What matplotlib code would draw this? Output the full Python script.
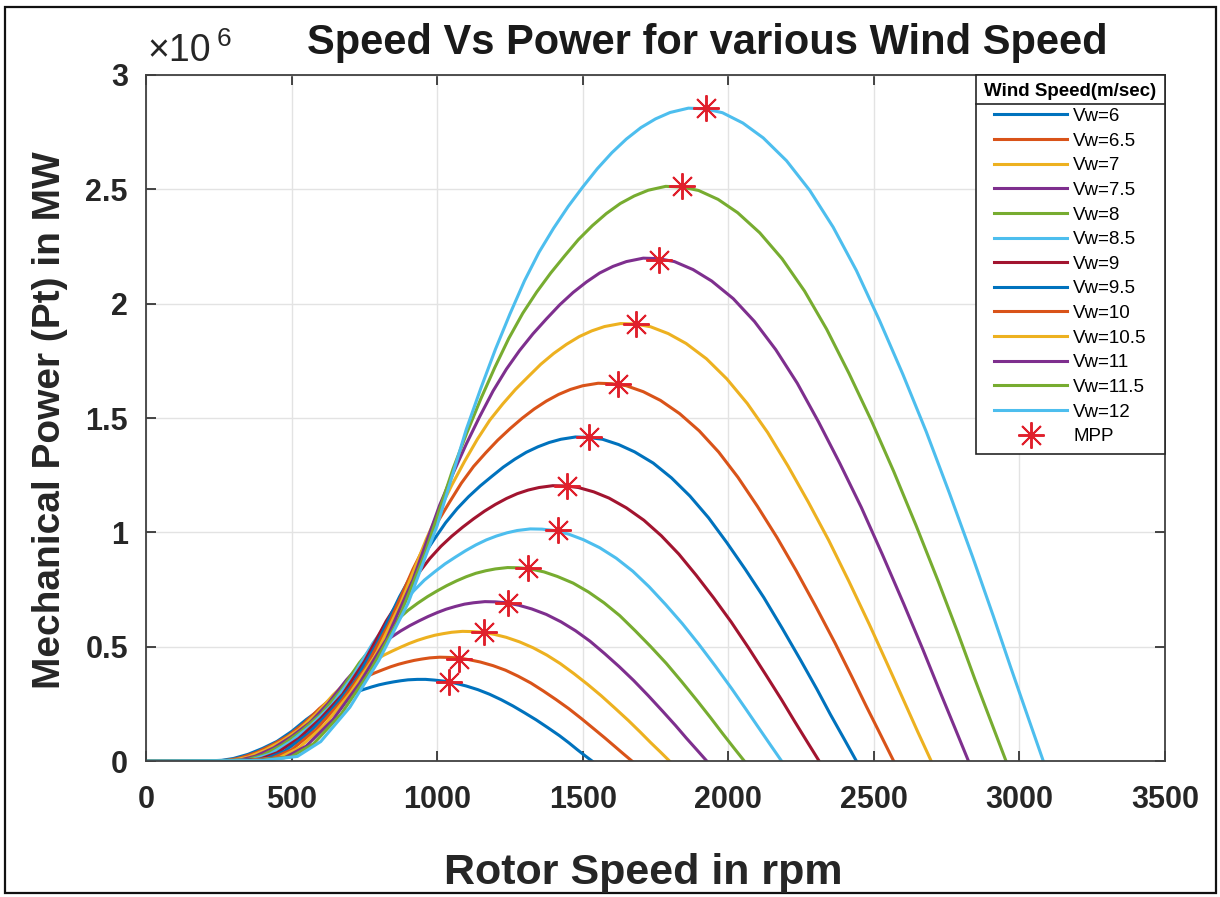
import matplotlib
matplotlib.use('Agg')
import matplotlib.pyplot as plt
from matplotlib.lines import Line2D
from matplotlib.patches import Rectangle

plt.rcParams['font.family'] = ['Liberation Sans', 'DejaVu Sans']

# rotor speed (rpm) and mechanical power (x10^6 W) for each wind speed
rpm_vw6 = [0, 200, 260, 300, 350, 400, 450, 500, 550, 575, 600, 625, 650, 675, 700, 725, 750, 775, 800, 825, 850, 875, 900, 932, 960, 990, 1025, 1060, 1100, 1140, 1180, 1220, 1260, 1300, 1340, 1380, 1420, 1453, 1480, 1507, 1532]
p_vw6 = [0, 0.000, 0.003, 0.011, 0.029, 0.055, 0.086, 0.129, 0.181, 0.204, 0.225, 0.244, 0.263, 0.278, 0.291, 0.303, 0.314, 0.324, 0.333, 0.340, 0.346, 0.351, 0.355, 0.357, 0.357, 0.354, 0.349, 0.341, 0.328, 0.312, 0.292, 0.268, 0.241, 0.211, 0.180, 0.146, 0.111, 0.079, 0.051, 0.024, 0]

rpm_vw65 = [0, 217, 282, 325, 379, 433, 488, 542, 596, 623, 650, 677, 704, 731, 758, 785, 813, 840, 867, 894, 921, 948, 975, 1009, 1040, 1073, 1110, 1148, 1192, 1235, 1278, 1322, 1365, 1408, 1452, 1495, 1538, 1576, 1609, 1641, 1669]
p_vw65 = [0, 0.000, 0.003, 0.014, 0.037, 0.070, 0.110, 0.164, 0.230, 0.259, 0.286, 0.311, 0.334, 0.354, 0.370, 0.385, 0.399, 0.412, 0.423, 0.432, 0.440, 0.446, 0.451, 0.454, 0.453, 0.451, 0.443, 0.433, 0.417, 0.397, 0.371, 0.341, 0.306, 0.269, 0.229, 0.186, 0.141, 0.101, 0.065, 0.030, 0]

rpm_vw7 = [0, 233, 303, 350, 408, 467, 525, 583, 642, 671, 700, 729, 758, 788, 817, 846, 875, 904, 933, 963, 992, 1021, 1050, 1087, 1120, 1155, 1196, 1237, 1283, 1330, 1377, 1423, 1470, 1517, 1563, 1610, 1657, 1698, 1733, 1768, 1798]
p_vw7 = [0, 0.000, 0.004, 0.017, 0.047, 0.087, 0.137, 0.204, 0.288, 0.324, 0.357, 0.388, 0.417, 0.442, 0.463, 0.481, 0.498, 0.514, 0.528, 0.540, 0.550, 0.557, 0.563, 0.567, 0.566, 0.563, 0.554, 0.541, 0.521, 0.495, 0.463, 0.426, 0.382, 0.335, 0.286, 0.232, 0.177, 0.126, 0.081, 0.038, 0]

rpm_vw75 = [0, 250, 325, 375, 438, 500, 563, 625, 688, 719, 750, 781, 813, 844, 875, 906, 938, 969, 1000, 1031, 1063, 1094, 1125, 1164, 1200, 1238, 1281, 1325, 1375, 1425, 1475, 1525, 1575, 1625, 1675, 1725, 1775, 1819, 1856, 1894, 1926]
p_vw75 = [0, 0.000, 0.005, 0.021, 0.057, 0.107, 0.168, 0.251, 0.354, 0.398, 0.439, 0.477, 0.513, 0.543, 0.569, 0.592, 0.613, 0.632, 0.649, 0.664, 0.676, 0.686, 0.692, 0.697, 0.696, 0.692, 0.681, 0.665, 0.641, 0.609, 0.570, 0.524, 0.470, 0.413, 0.352, 0.286, 0.217, 0.155, 0.100, 0.046, 0]

rpm_vw8 = [0, 267, 347, 400, 467, 533, 600, 667, 733, 767, 800, 833, 867, 900, 933, 967, 1000, 1033, 1067, 1100, 1133, 1167, 1200, 1242, 1280, 1320, 1367, 1413, 1467, 1520, 1573, 1627, 1680, 1733, 1787, 1840, 1893, 1940, 1980, 2020, 2055]
p_vw8 = [0, 0.001, 0.006, 0.025, 0.070, 0.130, 0.204, 0.305, 0.430, 0.483, 0.533, 0.579, 0.622, 0.659, 0.690, 0.719, 0.744, 0.767, 0.788, 0.806, 0.821, 0.832, 0.840, 0.846, 0.845, 0.840, 0.827, 0.807, 0.778, 0.739, 0.692, 0.636, 0.570, 0.501, 0.427, 0.347, 0.264, 0.188, 0.121, 0.056, 0]

rpm_vw85 = [0, 283, 368, 425, 496, 567, 638, 708, 779, 815, 850, 885, 921, 956, 992, 1027, 1063, 1098, 1133, 1169, 1204, 1240, 1275, 1320, 1360, 1402, 1452, 1502, 1558, 1615, 1672, 1728, 1785, 1842, 1898, 1955, 2012, 2061, 2104, 2146, 2183]
p_vw85 = [0, 0.001, 0.007, 0.030, 0.084, 0.156, 0.245, 0.366, 0.515, 0.579, 0.640, 0.695, 0.746, 0.791, 0.828, 0.862, 0.892, 0.920, 0.945, 0.967, 0.984, 0.998, 1.008, 1.015, 1.014, 1.008, 0.992, 0.968, 0.933, 0.887, 0.830, 0.762, 0.684, 0.601, 0.512, 0.416, 0.316, 0.226, 0.146, 0.068, 0]

rpm_vw9 = [0, 300, 390, 450, 525, 600, 675, 750, 825, 863, 900, 938, 975, 1013, 1050, 1088, 1125, 1163, 1200, 1238, 1275, 1313, 1350, 1397, 1440, 1485, 1538, 1590, 1650, 1710, 1770, 1830, 1890, 1950, 2010, 2070, 2130, 2183, 2228, 2273, 2312]
p_vw9 = [0, 0.001, 0.008, 0.036, 0.099, 0.186, 0.291, 0.435, 0.612, 0.688, 0.759, 0.825, 0.886, 0.939, 0.983, 1.023, 1.059, 1.093, 1.122, 1.148, 1.169, 1.185, 1.196, 1.204, 1.203, 1.196, 1.177, 1.150, 1.107, 1.053, 0.985, 0.905, 0.812, 0.713, 0.608, 0.494, 0.375, 0.268, 0.173, 0.080, 0]

rpm_vw95 = [0, 317, 412, 475, 554, 633, 713, 792, 871, 910, 950, 990, 1029, 1069, 1108, 1148, 1188, 1227, 1267, 1306, 1346, 1385, 1425, 1475, 1520, 1568, 1623, 1678, 1742, 1805, 1868, 1932, 1995, 2058, 2122, 2185, 2248, 2304, 2351, 2399, 2440]
p_vw95 = [0, 0.001, 0.010, 0.042, 0.117, 0.218, 0.342, 0.511, 0.719, 0.809, 0.893, 0.970, 1.042, 1.104, 1.156, 1.203, 1.245, 1.285, 1.320, 1.350, 1.374, 1.393, 1.407, 1.417, 1.415, 1.407, 1.384, 1.352, 1.303, 1.238, 1.159, 1.064, 0.955, 0.839, 0.715, 0.581, 0.442, 0.315, 0.203, 0.094, 0]

rpm_vw10 = [0, 333, 433, 500, 583, 667, 750, 833, 917, 958, 1000, 1042, 1083, 1125, 1167, 1208, 1250, 1292, 1333, 1375, 1417, 1458, 1500, 1553, 1600, 1650, 1708, 1767, 1833, 1900, 1967, 2033, 2100, 2167, 2233, 2300, 2367, 2425, 2475, 2525, 2568]
p_vw10 = [0, 0.001, 0.012, 0.049, 0.136, 0.255, 0.399, 0.596, 0.839, 0.943, 1.042, 1.131, 1.215, 1.288, 1.348, 1.403, 1.453, 1.499, 1.539, 1.574, 1.603, 1.625, 1.641, 1.652, 1.650, 1.641, 1.615, 1.577, 1.519, 1.444, 1.351, 1.241, 1.114, 0.978, 0.833, 0.677, 0.515, 0.367, 0.237, 0.110, 0]

rpm_vw105 = [0, 350, 455, 525, 613, 700, 788, 875, 963, 1006, 1050, 1094, 1138, 1181, 1225, 1269, 1313, 1356, 1400, 1444, 1488, 1531, 1575, 1630, 1680, 1733, 1794, 1855, 1925, 1995, 2065, 2135, 2205, 2275, 2345, 2415, 2485, 2546, 2599, 2651, 2697]
p_vw105 = [0, 0.001, 0.013, 0.057, 0.157, 0.295, 0.462, 0.690, 0.971, 1.092, 1.206, 1.310, 1.407, 1.491, 1.561, 1.625, 1.681, 1.735, 1.782, 1.822, 1.856, 1.881, 1.900, 1.913, 1.911, 1.899, 1.869, 1.826, 1.759, 1.671, 1.564, 1.437, 1.290, 1.132, 0.965, 0.784, 0.596, 0.425, 0.275, 0.127, 0]

rpm_vw11 = [0, 367, 477, 550, 642, 733, 825, 917, 1008, 1054, 1100, 1146, 1192, 1238, 1283, 1329, 1375, 1421, 1467, 1513, 1558, 1604, 1650, 1708, 1760, 1815, 1879, 1943, 2017, 2090, 2163, 2237, 2310, 2383, 2457, 2530, 2603, 2668, 2723, 2778, 2825]
p_vw11 = [0, 0.002, 0.015, 0.065, 0.181, 0.339, 0.531, 0.793, 1.117, 1.256, 1.386, 1.506, 1.618, 1.714, 1.795, 1.868, 1.933, 1.995, 2.049, 2.095, 2.134, 2.163, 2.184, 2.199, 2.197, 2.184, 2.149, 2.099, 2.022, 1.922, 1.799, 1.652, 1.483, 1.302, 1.109, 0.901, 0.686, 0.489, 0.316, 0.146, 0]

rpm_vw115 = [0, 383, 498, 575, 671, 767, 863, 958, 1054, 1102, 1150, 1198, 1246, 1294, 1342, 1390, 1438, 1485, 1533, 1581, 1629, 1677, 1725, 1785, 1840, 1898, 1965, 2032, 2108, 2185, 2262, 2338, 2415, 2492, 2568, 2645, 2722, 2789, 2846, 2904, 2954]
p_vw115 = [0, 0.002, 0.018, 0.075, 0.207, 0.387, 0.607, 0.907, 1.276, 1.435, 1.584, 1.721, 1.848, 1.958, 2.051, 2.134, 2.209, 2.280, 2.341, 2.394, 2.438, 2.471, 2.496, 2.513, 2.510, 2.495, 2.456, 2.398, 2.310, 2.196, 2.055, 1.888, 1.694, 1.487, 1.267, 1.030, 0.783, 0.559, 0.361, 0.167, 0]

rpm_vw12 = [0, 400, 520, 600, 700, 800, 900, 1000, 1100, 1150, 1200, 1250, 1300, 1350, 1400, 1450, 1500, 1550, 1600, 1650, 1700, 1750, 1800, 1863, 1920, 1980, 2050, 2120, 2200, 2280, 2360, 2440, 2520, 2600, 2680, 2760, 2840, 2910, 2970, 3030, 3082]
p_vw12 = [0, 0.002, 0.020, 0.085, 0.235, 0.440, 0.690, 1.030, 1.450, 1.630, 1.800, 1.955, 2.100, 2.225, 2.330, 2.425, 2.510, 2.590, 2.660, 2.720, 2.770, 2.808, 2.836, 2.855, 2.852, 2.835, 2.790, 2.725, 2.625, 2.495, 2.335, 2.145, 1.925, 1.690, 1.440, 1.170, 0.890, 0.635, 0.410, 0.190, 0]

# maximum power points
mpp_rpm = [1041, 1076, 1162, 1244, 1313, 1414, 1447, 1522, 1622, 1684, 1763, 1842, 1924]
mpp_power = [0.346, 0.447, 0.566, 0.689, 0.846, 1.009, 1.202, 1.417, 1.649, 1.912, 2.193, 2.513, 2.855]

labels = ['Vw=6', 'Vw=6.5', 'Vw=7', 'Vw=7.5', 'Vw=8', 'Vw=8.5', 'Vw=9',
          'Vw=9.5', 'Vw=10', 'Vw=10.5', 'Vw=11', 'Vw=11.5', 'Vw=12']

series = [(rpm_vw6, p_vw6), (rpm_vw65, p_vw65), (rpm_vw7, p_vw7), (rpm_vw75, p_vw75),
          (rpm_vw8, p_vw8), (rpm_vw85, p_vw85), (rpm_vw9, p_vw9), (rpm_vw95, p_vw95),
          (rpm_vw10, p_vw10), (rpm_vw105, p_vw105), (rpm_vw11, p_vw11),
          (rpm_vw115, p_vw115), (rpm_vw12, p_vw12)]

# default MATLAB line colour order
matlab_colors = ['#0072BD', '#D95319', '#EDB120', '#7E2F8E', '#77AC30', '#4DBEEE', '#A2142F']

fig = plt.figure(figsize=(12.2, 8.97), dpi=100)
ax = fig.add_axes([0.1197, 0.1516, 0.8352, 0.7648])

for i, (rpm, p) in enumerate(series):
    ax.plot(rpm, p, color=matlab_colors[i % 7], linewidth=2.2, label=labels[i],
            solid_joinstyle='round')

ax.plot(mpp_rpm, mpp_power, linestyle='none', marker=(8, 2, 0), markersize=19,
        markeredgewidth=1.4, color='#E0202C', label='MPP')

ax.set_xlim(0, 3500)
ax.set_ylim(0, 3)
ax.set_xticks(range(0, 3501, 500))
ax.set_yticks([0, 0.5, 1, 1.5, 2, 2.5, 3])
ax.set_yticklabels(['0', '0.5', '1', '1.5', '2', '2.5', '3'])
ax.grid(True, color='#e3e3e3', linewidth=1)
ax.set_axisbelow(True)
ax.tick_params(direction='in', top=True, right=True, length=7, width=1.2,
               labelsize=22, colors='#262626')
ax.tick_params(axis='x', pad=17)
ax.tick_params(axis='y', pad=13)
for lab in ax.get_xticklabels() + ax.get_yticklabels():
    lab.set_fontweight('bold')
for s in ax.spines.values():
    s.set_color('#404040')
    s.set_linewidth(1.3)

fig.text(0.58, 0.952, 'Speed Vs Power for various Wind Speed', fontsize=30,
         fontweight='bold', ha='center', va='center', color='#1a1a1a')
fig.text(0.527, 1 - 884 / 897, 'Rotor Speed in rpm', fontsize=31, fontweight='bold',
         ha='center', va='baseline', color='#262626')
fig.text(0.041, 0.532, 'Mechanical Power (Pt) in MW', fontsize=28, fontweight='bold',
         ha='center', va='center', rotation=90, color='#262626')

# exponent shown above the y axis
fig.text(0.1205, 0.943, '×10', fontsize=27, ha='left', va='center', color='#262626')
fig.text(0.1775, 0.956, '6', fontsize=19, ha='left', va='center', color='#262626')

leg = ax.legend(loc='upper right', bbox_to_anchor=(1.0, 1.0), borderaxespad=0.0,
                title='Wind Speed(m/sec)', fontsize=13.5, title_fontsize=13.5,
                handlelength=3.9, handletextpad=0.3, labelspacing=0.4,
                borderpad=0.45, fancybox=False, framealpha=1, edgecolor='#262626')
leg.get_title().set_fontweight('bold')
leg.get_frame().set_linewidth(1.2)

# separator under the legend title
fig.canvas.draw()
renderer = fig.canvas.get_renderer()
lb = leg.get_window_extent(renderer)
tb = leg.get_title().get_window_extent(renderer)
inv = fig.transFigure.inverted()
x0, y0 = inv.transform((lb.x0, tb.y0 - 4))
x1, _ = inv.transform((lb.x1, tb.y0 - 4))
fig.add_artist(Line2D([x0, x1], [y0, y0], transform=fig.transFigure,
                      color='#262626', linewidth=1.2))

# outer frame
fig.add_artist(Rectangle((5 / 1220, 4 / 897), 1211 / 1220, 886 / 897,
                         transform=fig.transFigure, fill=False,
                         edgecolor='#111111', linewidth=1.6))

fig.savefig('out.png', dpi=100)
